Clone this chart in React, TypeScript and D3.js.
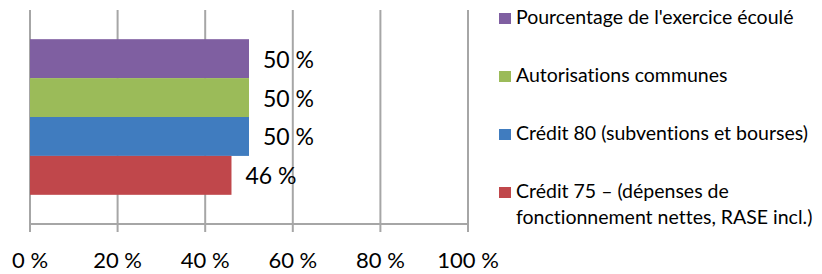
import { useEffect, useRef } from 'react';
import * as d3 from 'd3';

// Series, top to bottom as drawn
const seriesNames = [
  "Pourcentage de l'exercice écoulé",
  'Autorisations communes',
  'Crédit 80 (subventions et bourses)',
  'Crédit 75 – (dépenses de fonctionnement nettes, RASE incl.)',
];
const seriesValues = [50, 50, 50, 46];
const seriesColors = ['#7F5FA1', '#9BBB59', '#407CBF', '#C0474B'];
const valueLabels = ['50 %', '50 %', '50 %', '46 %'];

// Legend lines (the last entry wraps onto two lines)
const legendLines = [
  ["Pourcentage de l'exercice écoulé"],
  ['Autorisations communes'],
  ['Crédit 80 (subventions et bourses)'],
  ['Crédit 75 – (dépenses de', 'fonctionnement nettes, RASE incl.)'],
];

const xTicks = [0, 20, 40, 60, 80, 100];
const xTickLabels = ['0 %', '20 %', '40 %', '60 %', '80 %', '100 %'];

const App = () => {
  const chartRef = useRef<SVGSVGElement | null>(null);

  useEffect(() => {
    if (!chartRef.current) return;

    d3.select(chartRef.current).selectAll('*').remove();

    const width = 822;
    const height = 274;
    const plot = { left: 30, right: 468, top: 10, bottom: 224 };
    const font = 'Lato, "Open Sans", sans-serif';
    const gridColor = '#A6A6A6';

    const svg = d3.select(chartRef.current)
      .attr('width', width)
      .attr('height', height)
      .style('font-variant-ligatures', 'none');

    svg.append('rect')
      .attr('width', width)
      .attr('height', height)
      .attr('fill', '#fff');

    const x = d3.scaleLinear()
      .domain([0, 100])
      .range([plot.left, plot.right]);

    const y = d3.scaleBand<string>()
      .domain(seriesNames)
      .range([plot.top, plot.bottom])
      .paddingInner(0)
      .paddingOuter(0.75);

    // Vertical gridlines
    svg.append('g')
      .selectAll('line')
      .data(xTicks)
      .enter()
      .append('line')
      .attr('x1', d => x(d))
      .attr('x2', d => x(d))
      .attr('y1', plot.top)
      .attr('y2', plot.bottom + 8)
      .attr('stroke', gridColor)
      .attr('stroke-width', 2);

    // Horizontal axis line
    svg.append('line')
      .attr('x1', x(0))
      .attr('x2', x(100))
      .attr('y1', plot.bottom)
      .attr('y2', plot.bottom)
      .attr('stroke', gridColor)
      .attr('stroke-width', 2);

    // Tick labels
    svg.append('g')
      .selectAll('text')
      .data(xTicks)
      .enter()
      .append('text')
      .attr('x', d => x(d))
      .attr('y', 268)
      .attr('text-anchor', 'middle')
      .style('font-family', font)
      .style('font-size', '22px')
      .attr('fill', '#000')
      .text((d, i) => xTickLabels[i]);

    // Bars
    svg.append('g')
      .selectAll('rect')
      .data(seriesNames)
      .enter()
      .append('rect')
      .attr('x', x(0))
      .attr('y', d => y(d) || 0)
      .attr('width', (d, i) => x(seriesValues[i]) - x(0))
      .attr('height', y.bandwidth())
      .attr('fill', (d, i) => seriesColors[i]);

    // Value labels
    svg.append('g')
      .selectAll('text')
      .data(seriesNames)
      .enter()
      .append('text')
      .attr('x', (d, i) => x(seriesValues[i]) + 14)
      .attr('y', d => (y(d) || 0) + y.bandwidth() / 2 + 9)
      .style('font-family', font)
      .style('font-size', '23px')
      .attr('fill', '#000')
      .text((d, i) => valueLabels[i]);

    // Legend
    const legend = svg.append('g');
    const rowStep = 58;
    legendLines.forEach((lines, i) => {
      const baseline = 24 + i * rowStep;
      legend.append('rect')
        .attr('x', 499)
        .attr('y', baseline - 11)
        .attr('width', 12)
        .attr('height', 11)
        .attr('fill', seriesColors[i]);
      lines.forEach((line, j) => {
        legend.append('text')
          .attr('x', 516)
          .attr('y', baseline + j * 26)
          .style('font-family', font)
          .style('font-size', '19.5px')
          .attr('fill', '#000')
          .text(line);
      });
    });
  }, []);

  return (
    <div style={{ position: 'fixed', top: 0, left: 0 }}>
      <svg ref={chartRef}></svg>
    </div>
  );
};

export default App;
